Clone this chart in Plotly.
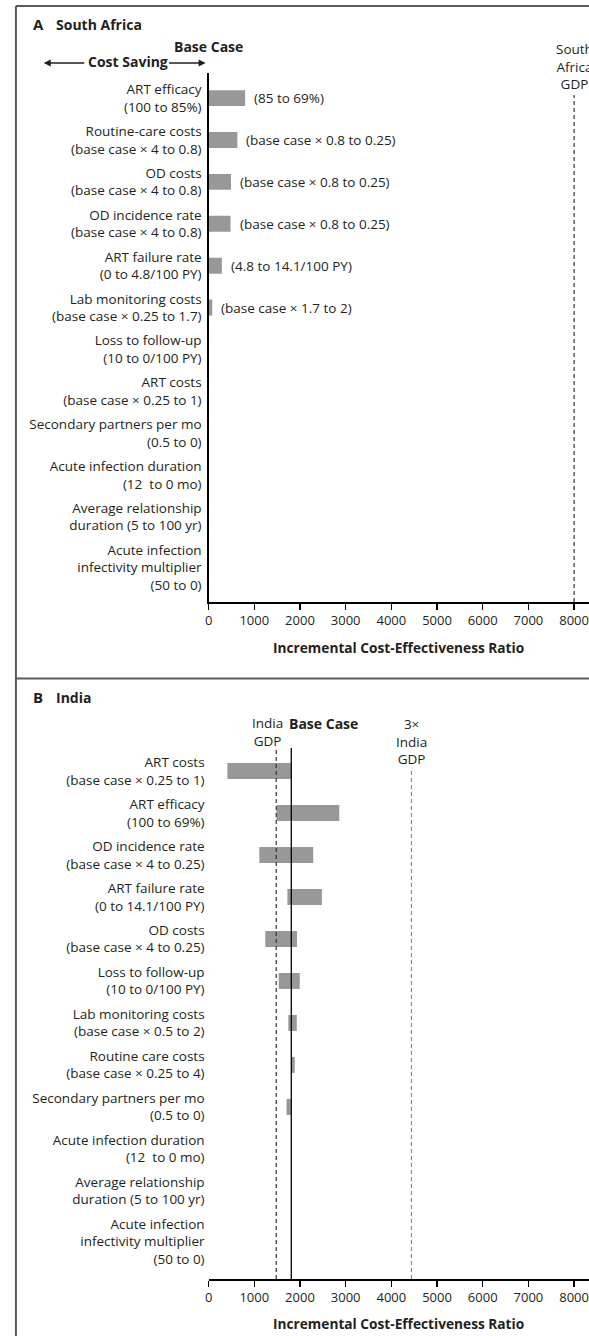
import plotly.graph_objects as go

# ---------------- data ----------------
sa_labels = [
    "ART efficacy<br>(100 to 85%)",
    "Routine-care costs<br>(base case × 4 to 0.8)",
    "OD costs<br>(base case × 4 to 0.8)",
    "OD incidence rate<br>(base case × 4 to 0.8)",
    "ART failure rate<br>(0 to 4.8/100 PY)",
    "Lab monitoring costs<br>(base case × 0.25 to 1.7)",
    "Loss to follow-up<br>(10 to 0/100 PY)",
    "ART costs<br>(base case × 0.25 to 1)",
    "Secondary partners per mo<br>(0.5 to 0)",
    "Acute infection duration<br>(12\u00a0 to 0 mo)",
    "Average relationship<br>duration (5 to 100 yr)",
    "<br>Acute infection<br>infectivity multiplier<br>(50 to 0)",
]
sa_low = [0, 0, 0, 0, 0, 0, None, None, None, None, None, None]
sa_high = [800, 630, 490, 480, 290, 80, None, None, None, None, None, None]
sa_right_text = [
    "(85 to 69%)",
    "(base case × 0.8 to 0.25)",
    "(base case × 0.8 to 0.25)",
    "(base case × 0.8 to 0.25)",
    "(4.8 to 14.1/100 PY)",
    "(base case × 1.7 to 2)",
    "", "", "", "", "", "",
]
sa_base = 0
sa_gdp = 8000

in_labels = [
    "ART costs<br>(base case × 0.25 to 1)",
    "ART efficacy<br>(100 to 69%)",
    "OD incidence rate<br>(base case × 4 to 0.25)",
    "ART failure rate<br>(0 to 14.1/100 PY)",
    "OD costs<br>(base case × 4 to 0.25)",
    "Loss to follow-up<br>(10 to 0/100 PY)",
    "Lab monitoring costs<br>(base case × 0.5 to 2)",
    "Routine care costs<br>(base case × 0.25 to 4)",
    "Secondary partners per mo<br>(0.5 to 0)",
    "Acute infection duration<br>(12\u00a0 to 0 mo)",
    "Average relationship<br>duration (5 to 100 yr)",
    "<br>Acute infection<br>infectivity multiplier<br>(50 to 0)",
]
in_low = [410, 1485, 1110, 1725, 1240, 1535, 1745, 1805, 1705, None, None, None]
in_high = [1810, 2860, 2290, 2480, 1935, 1995, 1930, 1885, 1800, None, None, None]
in_base = 1810
in_gdp = 1480
in_gdp3 = 4440

x_ticks = [0, 1000, 2000, 3000, 4000, 5000, 6000, 7000, 8000]

# ---------------- layout constants ----------------
W, H = 589, 1336
FONT = "Open Sans"
TXT = "#231f20"
BAR = "#989898"


def py(px):
    return 1 - px / H


def pxx(px):
    return px / W


def lengths(lo, hi):
    return [None if (a is None or b is None) else b - a for a, b in zip(lo, hi)]


fig = go.Figure()

fig.add_trace(go.Bar(
    y=sa_labels, x=lengths(sa_low, sa_high), base=sa_low, orientation="h",
    marker=dict(color=BAR, line=dict(width=0)), width=0.38,
    xaxis="x", yaxis="y", hoverinfo="skip",
))
fig.add_trace(go.Bar(
    y=in_labels, x=lengths(in_low, in_high), base=in_low, orientation="h",
    marker=dict(color=BAR, line=dict(width=0)), width=0.38,
    xaxis="x2", yaxis="y2", hoverinfo="skip",
))

A_top, A_bot = 73, 602
B_top, B_bot = 748, 1279
x_left = 206
x_range = [0, (W - x_left) / 46 * 1000]

xcommon = dict(
    range=x_range, domain=[pxx(x_left), 1], showgrid=False, zeroline=False,
    showline=True, linecolor="black", linewidth=1.5,
    ticks="outside", ticklen=6, tickwidth=1.3, tickcolor="black",
    tickvals=x_ticks, ticktext=[str(v) for v in x_ticks],
    tickfont=dict(family=FONT, size=13, color=TXT),
    fixedrange=True,
)
fig.update_layout(
    xaxis=dict(anchor="y", **xcommon),
    xaxis2=dict(anchor="y2", **xcommon),
    yaxis=dict(
        domain=[py(A_bot), py(A_top)], type="category",
        categoryorder="array", categoryarray=sa_labels,
        range=[12.03, -0.6], showgrid=False, zeroline=False,
        showline=True, linecolor="black", linewidth=1.3, ticks="",
        tickfont=dict(family=FONT, size=13.5, color=TXT), anchor="x",
        ticklabelstandoff=3, fixedrange=True,
    ),
    yaxis2=dict(
        domain=[py(B_bot), py(B_top)], type="category",
        categoryorder="array", categoryarray=in_labels,
        range=[12.1, -0.55], showgrid=False, zeroline=False,
        showline=False, ticks="",
        tickfont=dict(family=FONT, size=13.5, color=TXT), anchor="x2",
        ticklabelstandoff=3, fixedrange=True,
    ),
)

shapes = []
# outer frame & separator
frame = dict(type="line", xref="paper", yref="paper", line=dict(color="#5a5a5a", width=2))
shapes.append(dict(frame, x0=pxx(12), x1=1, y0=py(6), y1=py(6)))
shapes.append(dict(frame, x0=pxx(12), x1=pxx(12), y0=py(6), y1=0))
shapes.append(dict(frame, x0=pxx(12), x1=1, y0=py(678.5), y1=py(678.5)))
# reference lines
shapes.append(dict(type="line", xref="x", yref="y domain", x0=sa_gdp, x1=sa_gdp,
                   y0=0, y1=(A_bot - 95) / (A_bot - A_top),
                   line=dict(color="#333", width=1.2, dash="4px,3px")))
shapes.append(dict(type="line", xref="x2", yref="y2 domain", x0=in_gdp, x1=in_gdp,
                   y0=0, y1=1, line=dict(color="#333", width=1.2, dash="4px,3px")))
shapes.append(dict(type="line", xref="x2", yref="y2 domain", x0=in_gdp3, x1=in_gdp3,
                   y0=0, y1=(B_bot - 768) / (B_bot - B_top),
                   line=dict(color="#8a8a8a", width=1.2, dash="4px,3px")))
shapes.append(dict(type="line", xref="x2", yref="y2 domain", x0=in_base, x1=in_base,
                   y0=0, y1=1, line=dict(color="black", width=1.3)))
fig.update_layout(shapes=shapes)

ann = []
bold = dict(family=FONT, size=14, color=TXT)
reg = dict(family=FONT, size=13.5, color=TXT)

# panel titles
ann.append(dict(text="<b>A</b>", xref="paper", yref="paper", x=pxx(27), y=py(24),
                xanchor="left", yanchor="middle", showarrow=False, font=dict(bold, size=15)))
ann.append(dict(text="<b>South Africa</b>", xref="paper", yref="paper", x=pxx(50), y=py(24),
                xanchor="left", yanchor="middle", showarrow=False, font=bold))
ann.append(dict(text="<b>B</b>", xref="paper", yref="paper", x=pxx(27), y=py(697),
                xanchor="left", yanchor="middle", showarrow=False, font=dict(bold, size=15)))
ann.append(dict(text="<b>India</b>", xref="paper", yref="paper", x=pxx(50), y=py(697),
                xanchor="left", yanchor="middle", showarrow=False, font=bold))

# panel A headers
ann.append(dict(text="<b>Base Case</b>", xref="x", yref="paper", x=sa_base, y=py(47),
                xanchor="center", yanchor="middle", showarrow=False, font=bold))
ann.append(dict(text="<b>Cost Saving</b>", xref="paper", yref="paper", x=pxx(125), y=py(62),
                xanchor="center", yanchor="middle", showarrow=False, font=bold))
arrow = dict(text="", xref="paper", yref="paper", showarrow=True, arrowhead=2,
             arrowsize=1, arrowwidth=1.4, arrowcolor=TXT, axref="pixel", ayref="pixel", ay=0)
ann.append(dict(arrow, x=pxx(40), y=py(63), ax=42))
ann.append(dict(arrow, x=pxx(203), y=py(63), ax=-38))
ann.append(dict(text="South<br>Africa<br>GDP", xref="x", yref="paper", x=sa_gdp, y=py(66),
                xanchor="center", yanchor="middle", showarrow=False, font=reg))

# panel A bar texts
for lab, hi, t in zip(sa_labels, sa_high, sa_right_text):
    if t and hi is not None:
        ann.append(dict(text=t, xref="x", yref="y", x=hi, y=lab, xanchor="left",
                        yanchor="middle", xshift=7, showarrow=False, font=reg))

# panel B headers
ann.append(dict(text="India<br>GDP", xref="x2", yref="paper", x=in_gdp, y=py(732),
                xanchor="center", yanchor="middle", xshift=-9, showarrow=False, font=reg))
ann.append(dict(text="<b>Base Case</b>", xref="x2", yref="paper", x=in_base, y=py(723),
                xanchor="left", yanchor="middle", xshift=-4, showarrow=False, font=bold))
ann.append(dict(text="3×<br>India<br>GDP", xref="x2", yref="paper", x=in_gdp3, y=py(741),
                xanchor="center", yanchor="middle", showarrow=False, font=reg))

# axis titles
for xr, ypx in (("x domain", 648), ("x2 domain", 1323)):
    ann.append(dict(text="<b>Incremental Cost-Effectiveness Ratio</b>", xref=xr, yref="paper",
                    x=0.5, y=py(ypx), xanchor="center", yanchor="middle", showarrow=False,
                    font=dict(bold, size=13.7)))

fig.update_layout(
    annotations=ann,
    width=W, height=H, margin=dict(l=0, r=0, t=0, b=0),
    paper_bgcolor="white", plot_bgcolor="white", showlegend=False,
    barmode="overlay", font=dict(family=FONT, color=TXT),
)

fig.write_html(
    "out.html",
    config={"displayModeBar": False, "staticPlot": True},
    post_script="document.body.style.margin='0';document.body.style.padding='0';"
                "document.documentElement.style.overflow='hidden';"
                "document.body.style.overflow='hidden';",
)
